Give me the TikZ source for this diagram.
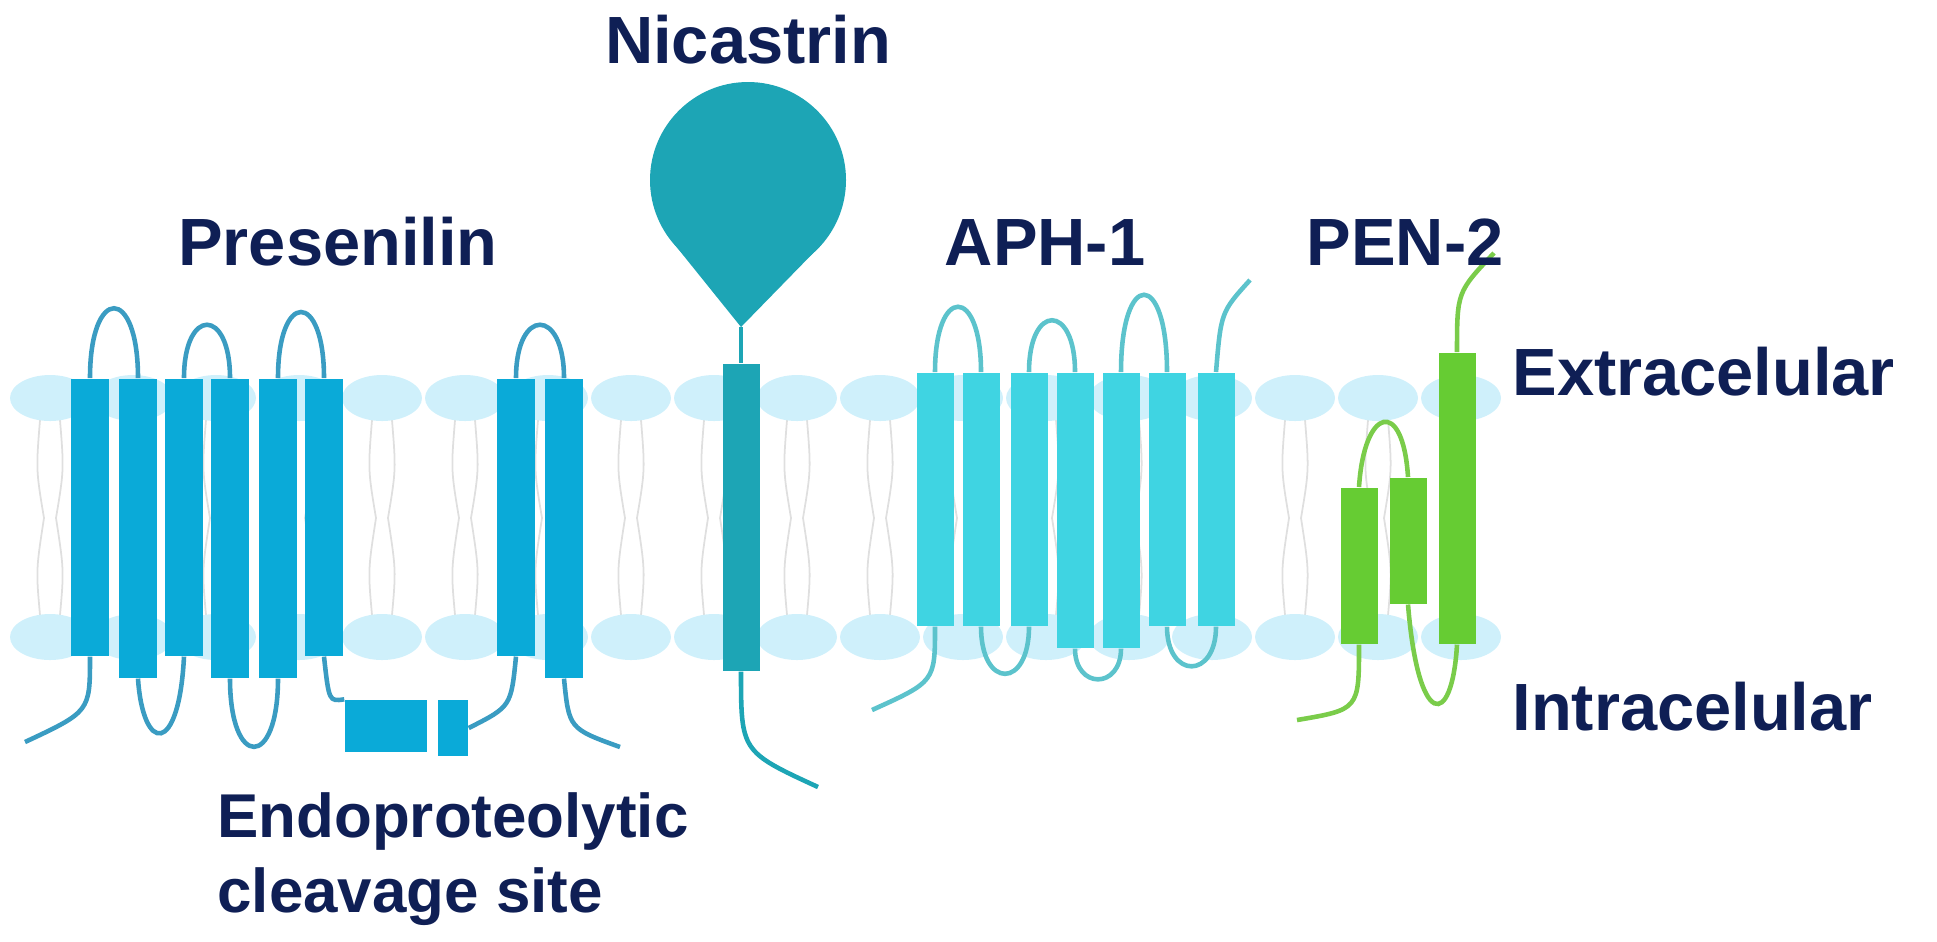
\documentclass[tikz,border=0pt]{standalone}
\usepackage{fontspec}
\setmainfont{Liberation Sans}
\usetikzlibrary{calc}
\definecolor{navy}{HTML}{0F1F55}
\definecolor{headblue}{HTML}{CFF0FB}
\definecolor{presblue}{HTML}{0AAAD8}
\definecolor{presline}{HTML}{3A9CC2}
\definecolor{nicteal}{HTML}{1DA5B5}
\definecolor{aphcyan}{HTML}{3FD4E2}
\definecolor{aphline}{HTML}{5CC3CC}
\definecolor{pengreen}{HTML}{66CC33}
\definecolor{penline}{HTML}{7ACC4A}
\tikzset{
  head/.style={fill=headblue},
  lipid/.style={gray!25, line width=0.5pt},
  helix/.style={rectangle, inner sep=0, minimum width=0.37cm, anchor=north},
  short/.style={helix, minimum height=2.77cm},
  long/.style={helix, minimum height=2.99cm},
  label/.style={font=\fontsize{19}{22}\selectfont\bfseries, text=navy},
  chain/.style={line width=1.3pt}
}
\begin{document}
\begin{tikzpicture}[x=0.01cm, y=-0.01cm]
\useasboundingbox (0,0) rectangle (1937,941);

% membrane
\foreach \k in {0,...,17}{
  \pgfmathsetmacro{\hx}{50+83*\k}
  \draw[lipid] (\hx-10,420) .. controls (\hx-14,470) .. (\hx-6,518) .. controls (\hx-14,570) .. (\hx-10,615);
  \draw[lipid] (\hx+10,420) .. controls (\hx+14,470) .. (\hx+6,518) .. controls (\hx+14,570) .. (\hx+10,615);
  \fill[head] (\hx,398) ellipse[x radius=40, y radius=23];
  \fill[head] (\hx,637) ellipse[x radius=40, y radius=23];
}

% presenilin
\node[short, fill=presblue] (p1) at (90,378) {};
\node[long, fill=presblue] (p2) at (138,378) {};
\node[short, fill=presblue] (p3) at (184,378) {};
\node[long, fill=presblue] (p4) at (230,378) {};
\node[long, fill=presblue] (p5) at (278,378) {};
\node[short, fill=presblue] (p6) at (324,378) {};
\node[short, fill=presblue] (p7) at (516,378) {};
\node[long, fill=presblue] (p8) at (564,378) {};
\node[rectangle, fill=presblue, inner sep=0, minimum width=0.82cm, minimum height=0.52cm] (cut1) at (386,726) {};
\node[rectangle, fill=presblue, inner sep=0, minimum width=0.30cm, minimum height=0.56cm] (cut2) at (453,728) {};
\begin{scope}[presline, chain]
\draw (p1.north) .. controls ($(p1.north)+(0,-93)$) and ($(p2.north)+(0,-93)$) .. (p2.north);
\draw (p3.north) .. controls ($(p3.north)+(0,-71)$) and ($(p4.north)+(0,-71)$) .. (p4.north);
\draw (p5.north) .. controls ($(p5.north)+(0,-88)$) and ($(p6.north)+(0,-88)$) .. (p6.north);
\draw (p7.north) .. controls ($(p7.north)+(0,-71)$) and ($(p8.north)+(0,-71)$) .. (p8.north);
\coordinate (p1end) at (25,742);
\coordinate (p8end) at (620,747);
\draw (p1.south) .. controls ($(p1.south)+(0,55)$) .. (p1end);
\draw (p2.south) .. controls ($(p2.south)+(5,75)$) and ($(p3.south)+(-5,100)$) .. (p3.south);
\draw (p4.south) .. controls ($(p4.south)+(0,91)$) and ($(p5.south)+(0,91)$) .. (p5.south);
\draw (p6.south) .. controls ($(p6.south)+(5,45)$) .. (cut1.north west);
\draw (cut2.east) .. controls ($(p7.south)+(-5,50)$) .. (p7.south);
\draw (p8.south) .. controls ($(p8.south)+(5,50)$) .. (p8end);
\end{scope}

% nicastrin
\node[helix, fill=nicteal, minimum height=3.07cm] (n1) at (741,363) {};
\coordinate (ntip) at (741,327);
\coordinate (nend) at (818,787);
\fill[nicteal] (748,180) circle[radius=98];
\fill[nicteal] (ntip) -- (675,245) -- (821,245) -- cycle;
\draw[nicteal, chain] (ntip) -- (n1.north);
\draw[nicteal, chain] (n1.south) .. controls ($(n1.south)+(0,80)$) .. (nend);

% APH-1
\foreach \n/\x/\h in {1/935/2.53, 2/981/2.53, 3/1029/2.53, 4/1075/2.75, 5/1121/2.75, 6/1167/2.53, 7/1216/2.53}
  \node[helix, fill=aphcyan, minimum height=\h cm] (a\n) at (\x,372) {};
\begin{scope}[aphline, chain]
\draw (a1.north) .. controls ($(a1.north)+(0,-87)$) and ($(a2.north)+(0,-87)$) .. (a2.north);
\draw (a3.north) .. controls ($(a3.north)+(0,-69)$) and ($(a4.north)+(0,-69)$) .. (a4.north);
\draw (a5.north) .. controls ($(a5.north)+(0,-103)$) and ($(a6.north)+(0,-103)$) .. (a6.north);
\coordinate (a7end) at (1250,280);
\draw (a7.north) .. controls ($(a7.north)+(5,-60)$) .. (a7end);
\coordinate (a1end) at (872,710);
\draw (a1.south) .. controls ($(a1.south)+(0,55)$) .. (a1end);
\draw (a2.south) .. controls ($(a2.south)+(0,63)$) and ($(a3.south)+(0,63)$) .. (a3.south);
\draw (a4.south) .. controls ($(a4.south)+(0,41)$) and ($(a5.south)+(0,41)$) .. (a5.south);
\draw (a6.south) .. controls ($(a6.south)+(0,53)$) and ($(a7.south)+(0,53)$) .. (a7.south);
\end{scope}

% PEN-2
\node[helix, fill=pengreen, minimum height=2.91cm] (e3) at (1457,352) {};
\node[helix, fill=pengreen, minimum height=1.56cm] (e1) at (1359,487) {};
\node[helix, fill=pengreen, minimum height=1.26cm] (e2) at (1408,477) {};
\begin{scope}[penline, chain]
\coordinate (e3end) at (1494,253);
\coordinate (e1end) at (1297,720);
\draw (e3.north) .. controls ($(e3.north)+(0,-60)$) .. (e3end);
\draw (e1.north) .. controls ($(e1.north)+(5,-80)$) and ($(e2.north)+(-5,-80)$) .. (e2.north);
\draw (e2.south) .. controls ($(e2.south)+(10,125)$) and ($(e3.south)+(-5,85)$) .. (e3.south);
\draw (e1.south) .. controls ($(e1.south)+(0,65)$) .. (e1end);
\end{scope}

% labels
\node[label] (tnic) at (748,40) {Nicastrin};
\node[label] (tpres) at (338,242) {Presenilin};
\node[label] (taph) at (1045,242) {APH-1};
\node[label] (tpen) at (1405,242) {PEN-2};
\node[label, anchor=west] (text) at (1500,372) {Extracelular};
\node[label, anchor=west] (tint) at (1500,707) {Intracelular};
\node[label, anchor=north west, align=left, font=\fontsize{17.6}{21.5}\selectfont\bfseries] (tcut) at (205,780) {Endoproteolytic\\cleavage site};
\end{tikzpicture}
\end{document}
